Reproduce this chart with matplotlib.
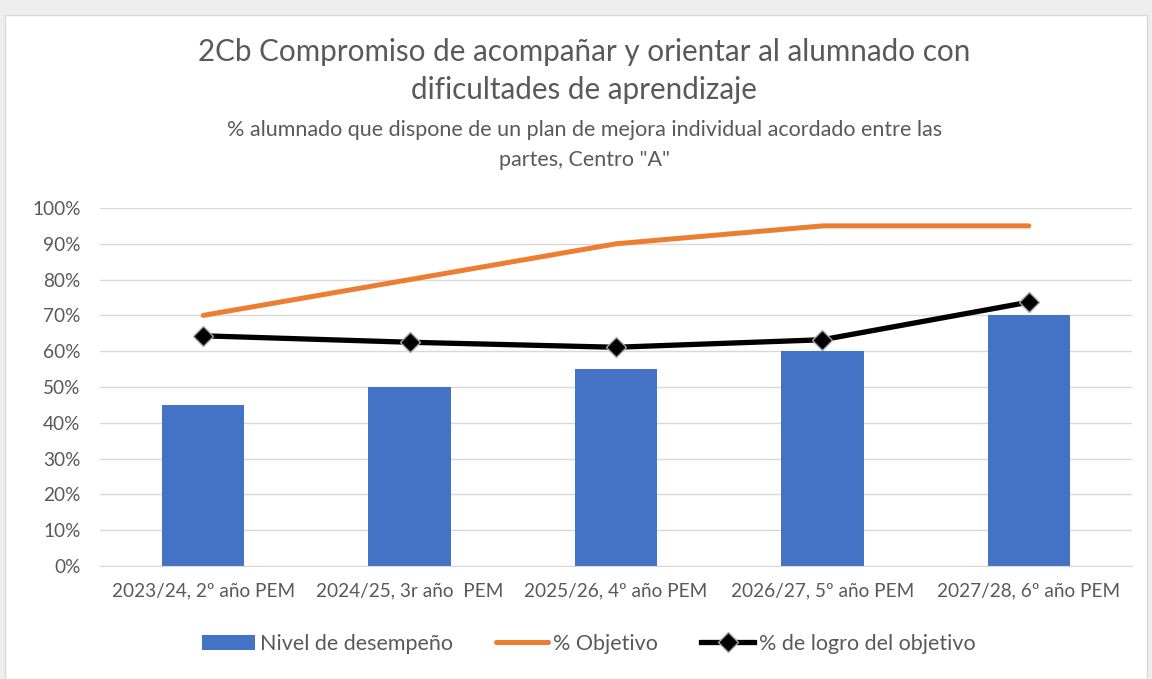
import matplotlib.pyplot as plt
from matplotlib.patches import Rectangle
from matplotlib.ticker import PercentFormatter

plt.rcParams['font.family'] = ['Lato', 'DejaVu Sans']

# Data
categories = ["2023/24, 2º año PEM", "2024/25, 3r año  PEM", "2025/26, 4º año PEM",
              "2026/27, 5º año PEM", "2027/28, 6º año PEM"]
nivel = [45, 50, 55, 60, 70]
objetivo = [70, 80, 90, 95, 95]
logro = [64.3, 62.5, 61.1, 63.2, 73.7]

fig = plt.figure(figsize=(11.52, 6.79), dpi=100, facecolor="#eeeeee")
# white chart area with a thin gray frame
fig.patches.append(Rectangle((5 / 1152, 0), 1142 / 1152, 1 - 15 / 679,
                             transform=fig.transFigure, facecolor="white",
                             edgecolor="#d9d9d9", linewidth=1, zorder=-5))

ax = fig.add_axes([100 / 1152, 1 - 566 / 679, 1032 / 1152, 358 / 679])
ax.set_zorder(2)
ax.set_facecolor("none")
x = range(len(categories))

bars = ax.bar(x, nivel, width=0.4, color="#4472c4", zorder=2, label="Nivel de desempeño")
l1, = ax.plot(x, objetivo, color="#ed7d31", linewidth=3.6, solid_capstyle="round", zorder=3,
              label="% Objetivo")
l2, = ax.plot(x, logro, color="black", linewidth=3.8, marker="D", markersize=10,
              markerfacecolor="black", markeredgecolor="#a6a6a6", markeredgewidth=1,
              zorder=4, label="% de logro del objetivo")

ax.set_xlim(-0.5, len(categories) - 0.5)
ax.set_ylim(0, 100)
ax.set_yticks(range(0, 101, 10))
ax.yaxis.set_major_formatter(PercentFormatter(decimals=0))
ax.set_xticks(list(x))
ax.set_xticklabels(categories)
ax.grid(axis="y", color="#d9d9d9", linewidth=1, zorder=0)
ax.set_axisbelow(True)
for side in ["top", "right", "left"]:
    ax.spines[side].set_visible(False)
ax.spines["bottom"].set_color("#d9d9d9")
ax.tick_params(axis="both", length=0, labelsize=13.7, labelcolor="#595959")
ax.tick_params(axis="x", pad=12)
ax.tick_params(axis="y", pad=14)

fig.text(0.507, 1 - 52 / 679, "2Cb Compromiso de acompañar y orientar al alumnado con",
         ha="center", va="center", fontsize=21.3, color="#595959")
fig.text(0.507, 1 - 90 / 679, "dificultades de aprendizaje",
         ha="center", va="center", fontsize=21.3, color="#595959")
fig.text(0.507, 1 - 130 / 679,
         "% alumnado que dispone de un plan de mejora individual acordado entre las",
         ha="center", va="center", fontsize=15.5, color="#595959")
fig.text(0.507, 1 - 160 / 679, 'partes, Centro "A"',
         ha="center", va="center", fontsize=15.5, color="#595959")

leg = fig.legend(handles=[bars, l1, l2], loc="center", bbox_to_anchor=(0.511, 1 - 644 / 679),
                 ncol=3, frameon=False, fontsize=15.5, handlelength=2.45, handletextpad=0.23,
                 columnspacing=2.0)
for t in leg.get_texts():
    t.set_color("#595959")

fig.savefig("out.png", dpi=100, facecolor=fig.get_facecolor())
